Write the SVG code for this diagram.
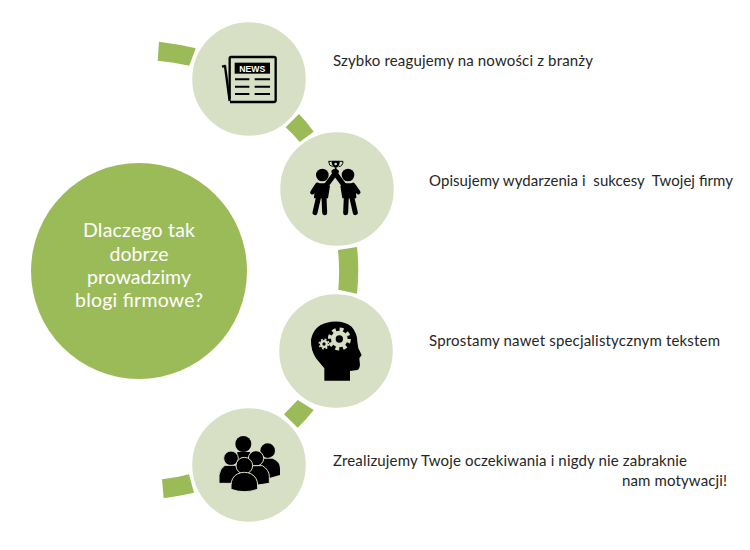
<svg xmlns="http://www.w3.org/2000/svg" width="750" height="550" viewBox="0 0 750 550">
<style>
.seg{fill:#9bbb59}
.big{fill:#9bbb59}
.node{fill:#d7e0c5;stroke:#fff;stroke-width:1.5}
.lbl{font-family:"Lato","Noto Sans",sans-serif;font-size:15px;font-weight:400;fill:#262626}
.ttl{font-family:"Lato","Noto Sans",sans-serif;font-size:19.500px;font-weight:400;fill:#fff;text-anchor:middle}
.ln{stroke:#000;stroke-width:6;fill:none}
.limb{stroke:#000;fill:none;stroke-linecap:round}
</style>
<rect width="750" height="550" fill="#fff"/>
<g id="connectors">
<path class="seg" d="M159 41.700Q178 44 195.700 48.300L189.300 65.700Q174 62 157.700 60.700Z"/>
<path class="seg" d="M299 114Q307 122 313.700 131.700L299.700 142Q293 134 285.700 127.300Z"/>
<path class="seg" d="M338 250L357 247Q359.500 270 357 293.700L338.300 289.700Q340 270 338 250Z"/>
<path class="seg" d="M297.700 400L313.700 410Q306 420 297.700 427.700L284 414.300Q291 407 297.700 400Z"/>
<path class="seg" d="M189 474.300L194 492.700Q179 496 163.700 498.300L162 479.300Q176 478 189 474.300Z"/>
</g>
<g id="center">
<circle class="big" cx="139" cy="271" r="108"/>
<text class="ttl" x="139" y="237" textLength="112">Dlaczego tak</text>
<text class="ttl" x="139" y="261" textLength="59">dobrze</text>
<text class="ttl" x="139" y="284" textLength="104">prowadzimy</text>
<text class="ttl" x="139" y="307" textLength="128">blogi firmowe?</text>
</g>
<g id="node1">
<circle class="node" cx="249" cy="79" r="57.500"/>
<g transform="translate(150 20) scale(.33333)">
<path d="M216 140L225 138L239 243" fill="none" stroke="#000" stroke-width="7" stroke-linejoin="round"/>
<path d="M240 246H372Q377 246 377 241V115Q377 111 372 111H243Q239 111 239 115V238" fill="none" stroke="#000" stroke-width="7" stroke-linejoin="round"/>
<rect x="254" y="128" width="106" height="33" fill="#000"/>
<text x="307" y="155" text-anchor="middle" font-family="Liberation Sans,sans-serif" font-size="27" font-weight="700" fill="#fff" textLength="78" lengthAdjust="spacingAndGlyphs">NEWS</text>
<path class="ln" d="M255 178H298M314 178H360M255 200H298M314 200H360M255 222H298M314 222H360"/>
</g>
<text class="lbl" x="333" y="66" textLength="260">Szybko reagujemy na nowości z branży</text>
</g>
<g id="node2">
<circle class="node" cx="337" cy="189" r="57.500"/>
<g transform="translate(270 130) scale(.33333)">
<circle cx="157" cy="135" r="19"/><circle cx="234" cy="135" r="19"/>
<path d="M140 160H170L180 168L174 205H132L134 172Z"/>
<path d="M251 160H221L211 168L217 205H259L257 172Z"/>
<path class="limb" stroke-width="13" d="M142 164L127 187M249 164L265 187"/>
<path class="limb" stroke-width="15" d="M168 167L199 125M223 167L192 125M146 200L135 248M162 200L164 248M245 200L256 248M229 200L227 248"/>
<path d="M184 92H210Q208 112 197 114Q186 112 184 92Z"/>
<path d="M184 94H176Q176 108 188 110M210 94H219Q219 108 206 110" fill="none" stroke="#000" stroke-width="3"/>
<path d="M197 114V122" stroke="#000" stroke-width="5" fill="none"/>
<circle cx="197" cy="102" r="4" fill="#d7e0c5"/>
</g>
<text class="lbl" x="429" y="186" textLength="304" xml:space="preserve">Opisujemy wydarzenia i  sukcesy  Twojej firmy</text>
</g>
<g id="node3">
<circle class="node" cx="336" cy="351" r="57.500"/>
<g transform="translate(270 290) scale(.33333)">
<path d="M163 272V235Q152 222 138 205Q122 180 123 150Q130 108 170 98Q215 88 245 110Q262 130 262 155L265 175L275 195L268 205L270 225Q268 238 262 240L240 243V272Z"/>
<circle cx="208" cy="147" r="25" fill="#d7e0c5"/>
<circle cx="208" cy="147" r="29" fill="none" stroke="#d7e0c5" stroke-width="11" stroke-dasharray="11.500 11.280"/>
<circle cx="208" cy="147" r="11"/>
<circle cx="162" cy="162" r="12" fill="#d7e0c5"/>
<circle cx="162" cy="162" r="14" fill="none" stroke="#d7e0c5" stroke-width="5" stroke-dasharray="5.500 5.500"/>
<circle cx="162" cy="162" r="5"/>
</g>
<text class="lbl" x="429" y="346" textLength="291">Sprostamy nawet specjalistycznym tekstem</text>
</g>
<g id="node4">
<circle class="node" cx="249" cy="465" r="57.500"/>
<g transform="translate(150 400) scale(.33333)">
<circle cx="280" cy="132" r="24"/>
<path d="M262 156H300V185H262Z"/>
<circle cx="353" cy="152" r="22"/>
<path d="M335 176H368Q390 185 390 205V225L355 235L325 200Z"/>
<g stroke="#d7e0c5" stroke-width="3">
<circle cx="243" cy="175" r="22"/>
<circle cx="318" cy="175" r="23"/>
<path d="M225 196H262L285 215V250H207V225Q210 205 225 196Z"/>
<path d="M300 197H337Q358 210 358 230V250L318 256L285 240Z"/>
<circle cx="283" cy="197" r="25"/>
<path d="M262 222Q283 212 304 222Q322 232 323 255V268Q283 282 243 268V255Q244 232 262 222Z"/>
</g>
</g>
<text class="lbl" x="333" y="466" textLength="354">Zrealizujemy Twoje oczekiwania i nigdy nie zabraknie</text>
<text class="lbl" x="622" y="486" textLength="105">nam motywacji!</text>
</g>
</svg>
